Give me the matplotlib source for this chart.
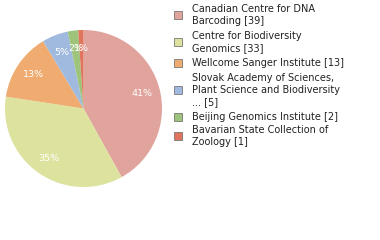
import matplotlib
matplotlib.use("Agg")
import matplotlib.pyplot as plt
from matplotlib.patches import Rectangle

labels = ["Canadian Centre for DNA\nBarcoding [39]",
          "Centre for Biodiversity\nGenomics [33]",
          "Wellcome Sanger Institute [13]",
          "Slovak Academy of Sciences,\nPlant Science and Biodiversity\n... [5]",
          "Beijing Genomics Institute [2]",
          "Bavarian State Collection of\nZoology [1]"]
values = [39, 33, 13, 5, 2, 1]
colors = ["#e0a49d", "#dde39f", "#efab70", "#9fbade", "#9ec47c", "#e0745c"]

W, H = 380, 240
fig = plt.figure(figsize=(W / 100, H / 100), dpi=100)
ax = fig.add_axes([5 / W, 1 - 187 / H, 157 / W, 157 / H])
wedges, texts, autotexts = ax.pie(values, colors=colors, startangle=90, counterclock=False,
                                  autopct=lambda p: f"{int(p)}%", pctdistance=0.77,
                                  wedgeprops=dict(linewidth=0),
                                  textprops=dict(color="white", fontsize=6.8))
ax.set_xlim(-1, 1)
ax.set_ylim(-1, 1)
ax.set_aspect("equal")

# legend
centers = [15, 42, 63, 90, 117, 136]
for i, (lab, c) in enumerate(zip(labels, colors)):
    cy = centers[i]
    fig.patches.append(Rectangle((174 / W, 1 - (cy + 4) / H), 8 / W, 8 / H,
                                 transform=fig.transFigure, facecolor=c,
                                 edgecolor="#777777", linewidth=0.6))
    fig.text(192 / W, 1 - cy / H, lab, fontsize=7.0, va="center", ha="left",
             color="#222222", linespacing=1.2)

fig.savefig("out.png", dpi=100)
